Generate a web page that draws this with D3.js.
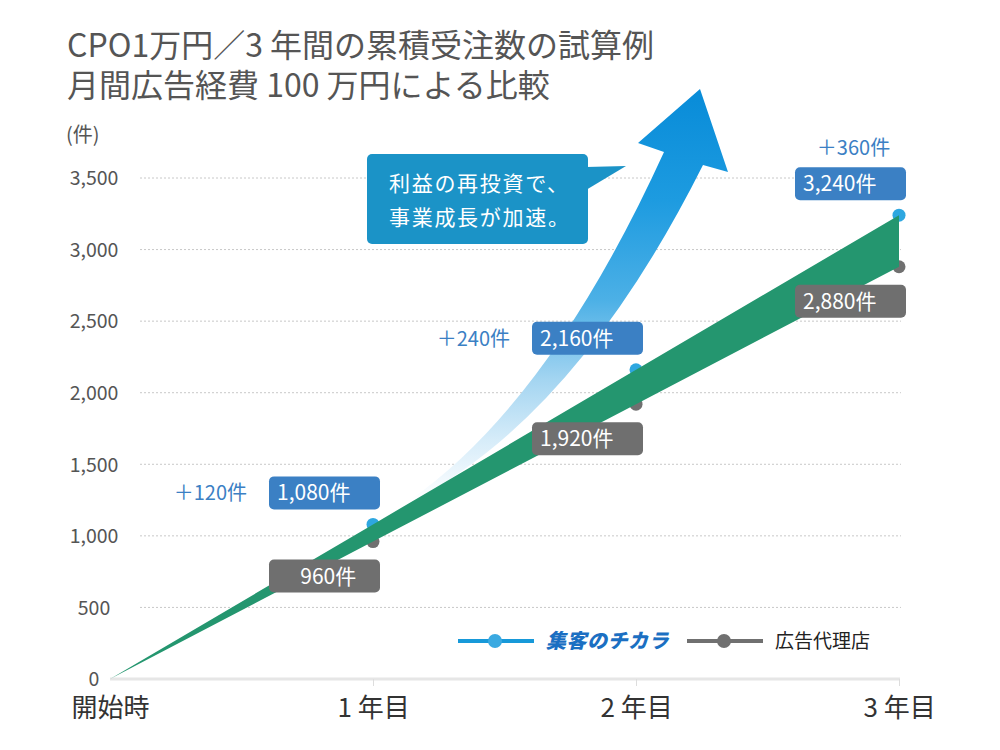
<!DOCTYPE html>
<html><head><meta charset="utf-8">
<script src="https://cdn.jsdelivr.net/npm/d3@7"></script>
<style>
html,body{margin:0;padding:0;background:#fff;}
svg{display:block;font-family:"Noto Sans CJK JP","Noto Sans",sans-serif;}
</style></head>
<body><svg id="chart" width="1000" height="750"></svg>
<script>
const categories = ["開始時", "1 年目", "2 年目", "3 年目"];
const chikaraValues = [0, 1080, 2160, 3240];
const agencyValues = [0, 960, 1920, 2880];
const incrementLabels = ["", "＋120件", "＋240件", "＋360件"];
const yTicks = [0, 500, 1000, 1500, 2000, 2500, 3000, 3500];
const titleLines = ["CPO1万円／3 年間の累積受注数の試算例", "月間広告経費 100 万円による比較"];
const calloutLines = ["利益の再投資で、", "事業成長が加速。"];
const legendNames = ["集客のチカラ", "広告代理店"];

const svg = d3.select("#chart");
const x = d3.scalePoint().domain(categories).range([110, 899]);
const y = d3.scaleLinear().domain([0, 3500]).range([679, 178]);

// title
svg.append("g").selectAll("text").data(titleLines).join("text")
  .attr("x", 67).attr("y", (d, i) => 57 + i * 40)
  .attr("font-size", 32).attr("fill", "#555").text(d => d);

// y unit
svg.append("text").attr("x", 66).attr("y", 142).attr("font-size", 20).attr("fill", "#555").text("(件)");

// grid
svg.append("g").selectAll("line").data(yTicks.filter(d => d > 0)).join("line")
  .attr("x1", 140).attr("x2", 901).attr("y1", d => y(d)).attr("y2", d => y(d))
  .attr("stroke", "#c8c8c8").attr("stroke-width", 1).attr("stroke-dasharray", "2,2");

// y axis labels
const yAxis = d3.axisLeft(y).tickValues(yTicks).tickFormat(d3.format(",")).tickSize(0).tickPadding(0);
const ya = svg.append("g").attr("transform", "translate(94,0)").call(yAxis);
ya.select(".domain").remove();
ya.selectAll("text").attr("font-size", 19.5).attr("fill", "#555").attr("text-anchor", "middle")
  .attr("font-family", "'Noto Sans CJK JP','Noto Sans',sans-serif").attr("dy", "0.35em").attr("x", 0);

// x axis
const xAxis = d3.axisBottom(x).tickSize(7).tickPadding(9);
const xa = svg.append("g").attr("transform", `translate(0,${y(0)})`).call(xAxis);
xa.select(".domain").attr("stroke", "#e6e6e6").attr("stroke-width", 3).attr("d", `M${x(categories[0])},0H${x(categories[3]) + 1}`);
xa.selectAll(".tick line").attr("stroke", "#ddd").attr("stroke-width", 1);
xa.selectAll(".tick text").attr("font-size", 26).attr("fill", "#333")
  .attr("font-family", "'Noto Sans CJK JP','Noto Sans',sans-serif").attr("dy", "0.85em");
xa.selectAll(".tick").filter((d, i) => i === 0).select("line").remove();

// gradient arrow (decorative)
const defs = svg.append("defs");
const grad = defs.append("linearGradient").attr("id", "arrowGrad").attr("gradientUnits", "userSpaceOnUse")
  .attr("x1", 0).attr("y1", 500).attr("x2", 0).attr("y2", 100);
[[0, "#ffffff"], [0.15, "#d6ecf9"], [0.3, "#a4d5f1"], [0.5, "#4cb0e6"], [0.75, "#1d9be0"], [1, "#0a8dd9"]]
  .forEach(([o, c]) => grad.append("stop").attr("offset", o).attr("stop-color", c));
svg.append("path")
  .attr("d", "M410,500 Q550,402 664,152 L638,143 L700,89 L728,172 L703,165 Q576,418 410,502 Z")
  .attr("fill", "url(#arrowGrad)");

// callout
const cx0 = 367, cy0 = 154, cw = 221, ch = 90;
svg.append("path")
  .attr("d", `M${cx0 + cw - 2},${cy0 + 13} L${cx0 + cw + 38},${cy0 + 12} L${cx0 + cw - 2},${cy0 + 36} Z`)
  .attr("fill", "#1b93c7");
svg.append("rect").attr("x", cx0).attr("y", cy0).attr("width", cw).attr("height", ch).attr("rx", 5)
  .attr("fill", "#1b93c7");
svg.append("g").selectAll("text").data(calloutLines).join("text")
  .attr("x", cx0 + 22).attr("y", (d, i) => cy0 + 37 + i * 34)
  .attr("font-size", 21).attr("fill", "#fff").attr("letter-spacing", 1.7).text(d => d);

// dots (under the band)
svg.append("g").selectAll("circle").data(agencyValues.slice(1)).join("circle")
  .attr("cx", (d, i) => x(categories[i + 1])).attr("cy", d => y(d)).attr("r", 6.5).attr("fill", "#707070");
svg.append("g").selectAll("circle").data(chikaraValues.slice(1)).join("circle")
  .attr("cx", (d, i) => x(categories[i + 1])).attr("cy", d => y(d)).attr("r", 6.5).attr("fill", "#2ea7e0");

// band
const bandData = categories.map((c, i) => ({ c, hi: chikaraValues[i], lo: agencyValues[i] }));
svg.append("path").datum(bandData)
  .attr("d", d3.area().x(d => x(d.c)).y0(d => y(d.lo)).y1(d => y(d.hi)))
  .attr("fill", "#24966f");

// labels
const fmt = v => d3.format(",")(v).padStart(5, "\u2007") + "件";
const bw = 111, bh = 33;
categories.forEach((c, i) => {
  if (i === 0) return;
  const px = x(c);
  const bx = px - 104;
  const byB = y(chikaraValues[i]) - 15 - bh;
  const byG = y(agencyValues[i]) + 18;
  svg.append("rect").attr("x", bx).attr("y", byB).attr("width", bw).attr("height", bh).attr("rx", 5).attr("fill", "#3b80c4");
  svg.append("text").attr("x", bx + 8).attr("y", byB + bh / 2).attr("dy", "0.36em").attr("font-size", 21).attr("fill", "#fff").text(fmt(chikaraValues[i]));
  svg.append("rect").attr("x", bx).attr("y", byG).attr("width", bw).attr("height", bh).attr("rx", 5).attr("fill", "#6f6f6f");
  svg.append("text").attr("x", bx + 8).attr("y", byG + bh / 2).attr("dy", "0.36em").attr("font-size", 21).attr("fill", "#fff").text(fmt(agencyValues[i]));
  const inc = svg.append("text").attr("font-size", 20).attr("fill", "#3b80c4").text(incrementLabels[i]);
  if (i < categories.length - 1) {
    inc.attr("x", bx - 22).attr("y", byB + bh / 2).attr("dy", "0.36em").attr("text-anchor", "end");
  } else {
    inc.attr("x", bx + bw / 2 + 3).attr("y", byB - 12).attr("text-anchor", "middle");
  }
});

// legend
const leg = [
  { name: legendNames[0], x0: 458, line: "#1799d9", dot: "#3aa9e1", tc: "#1b6fc2", logo: true },
  { name: legendNames[1], x0: 687, line: "#707070", dot: "#707070", tc: "#222", logo: false }
];
leg.forEach(l => {
  const g = svg.append("g").attr("transform", `translate(${l.x0},641)`);
  g.append("line").attr("x1", 0).attr("x2", 76).attr("stroke", l.line).attr("stroke-width", 4);
  g.append("circle").attr("cx", 37).attr("r", 7).attr("fill", l.dot);
  const t = g.append("text").attr("x", 88).attr("dy", "0.36em").attr("fill", l.tc).text(l.name);
  if (l.logo) t.attr("font-size", 20).attr("font-weight", 900).attr("font-style", "italic").attr("letter-spacing", 0.5);
  else t.attr("font-size", 19);
});
</script></body></html>
